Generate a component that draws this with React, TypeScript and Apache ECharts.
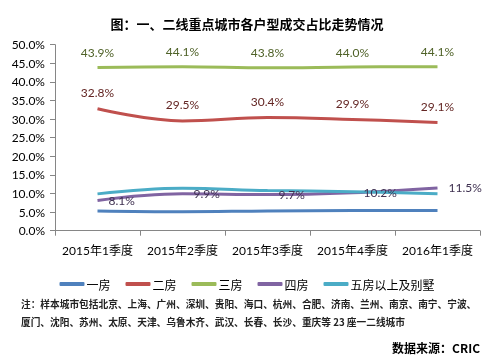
import React, { useEffect, useRef } from "react";
import * as echarts from "echarts";

const categories = ["2015年1季度", "2015年2季度", "2015年3季度", "2015年4季度", "2016年1季度"];
const seriesNames = ["一房", "二房", "三房", "四房", "五房以上及别墅"];
const oneRoom = [5.3, 5.1, 5.3, 5.4, 5.4];
const twoRoom = [32.8, 29.5, 30.4, 29.9, 29.1];
const threeRoom = [43.9, 44.1, 43.8, 44.0, 44.1];
const fourRoom = [8.1, 9.9, 9.7, 10.2, 11.5];
const fivePlus = [9.9, 11.4, 10.8, 10.5, 9.9];
const yTicks = { min: 0, max: 50, interval: 5 };

const FONT = "Lato, 'Noto Sans CJK SC', sans-serif";
const CJK = "'Noto Sans CJK SC', sans-serif";

export default function App() {
  const ref = useRef<HTMLDivElement>(null);
  useEffect(() => {
    if (!ref.current) return;
    const chart = echarts.init(ref.current, null, { renderer: "svg" });
    const mk = (name: string, data: number[], color: string, label: any) => ({
      name,
      type: "line",
      data,
      smooth: 0.4,
      symbol: "circle",
      symbolSize: 0,
      showSymbol: true,
      lineStyle: { color, width: 3 },
      itemStyle: { color },
      label,
    });
    const pct = (p: any) => Number(p.value).toFixed(1) + "%";
    chart.setOption({
      animation: false,
      textStyle: { fontFamily: FONT },
      title: {
        text: "图：一、二线重点城市各户型成交占比走势情况",
        left: "center",
        top: 12,
        textStyle: { fontFamily: CJK, fontSize: 13, fontWeight: "bold", color: "#000" },
      },
      grid: { left: 55, right: 14, top: 44.7, bottom: 133.3 },
      xAxis: {
        type: "category",
        data: categories,
        boundaryGap: true,
        axisLine: { lineStyle: { color: "#868686", width: 1 } },
        axisTick: { show: true, alignWithLabel: false, length: 5, lineStyle: { color: "#868686" } },
        axisLabel: { color: "#000", fontSize: 12, margin: 14, interval: 0, fontFamily: FONT },
      },
      yAxis: {
        type: "value",
        min: yTicks.min,
        max: yTicks.max,
        interval: yTicks.interval,
        splitLine: { show: false },
        axisLine: { show: true, lineStyle: { color: "#868686", width: 1 } },
        axisTick: { show: true, length: 5, lineStyle: { color: "#868686" } },
        axisLabel: {
          color: "#000",
          fontSize: 12,
          margin: 10,
          fontFamily: FONT,
          formatter: (v: number) => v.toFixed(1) + "%",
        },
      },
      legend: {
        data: seriesNames,
        top: 273,
        left: "center",
        icon: "roundRect",
        itemWidth: 25,
        itemHeight: 4,
        itemGap: 15,
        textStyle: { fontFamily: CJK, fontSize: 12, color: "#000", padding: [0, 0, 0, -3] },
      },
      series: [
        mk(seriesNames[0], oneRoom, "#4F81BD", { show: false }),
        mk(seriesNames[1], twoRoom, "#C0504D", {
          show: true,
          position: "top",
          distance: 10,
          fontSize: 12,
          color: "#632523",
          fontFamily: FONT,
          formatter: pct,
        }),
        mk(seriesNames[2], threeRoom, "#9BBB59", {
          show: true,
          position: "top",
          distance: 9,
          fontSize: 12,
          color: "#4F6228",
          fontFamily: FONT,
          formatter: pct,
        }),
        mk(seriesNames[3], fourRoom, "#8064A2", {
          show: true,
          position: "right",
          distance: 11,
          fontSize: 12,
          color: "#3F3151",
          fontFamily: FONT,
          formatter: pct,
        }),
        mk(seriesNames[4], fivePlus, "#4BACC6", { show: false }),
      ],
      graphic: [
        {
          type: "text",
          left: 21,
          top: 299,
          style: {
            text: "注：样本城市包括北京、上海、广州、深圳、贵阳、海口、杭州、合肥、济南、兰州、南京、南宁、宁波、",
            font: "bold 9.7px 'Noto Sans CJK SC', sans-serif",
            fill: "#222",
          },
        },
        {
          type: "text",
          left: 21,
          top: 317,
          style: {
            text: "厦门、沈阳、苏州、太原、天津、乌鲁木齐、武汉、长春、长沙、重庆等 23 座一二线城市",
            font: "bold 9.7px 'Noto Sans CJK SC', sans-serif",
            fill: "#222",
          },
        },
        {
          type: "text",
          right: 14,
          top: 341,
          style: {
            text: "数据来源：CRIC",
            font: "bold 12px 'Noto Sans CJK SC', sans-serif",
            fill: "#000",
          },
        },
      ],
    });
    return () => chart.dispose();
  }, []);
  return <div ref={ref} style={{ width: 494, height: 364, position: "fixed", left: 0, top: 0 }} />;
}
